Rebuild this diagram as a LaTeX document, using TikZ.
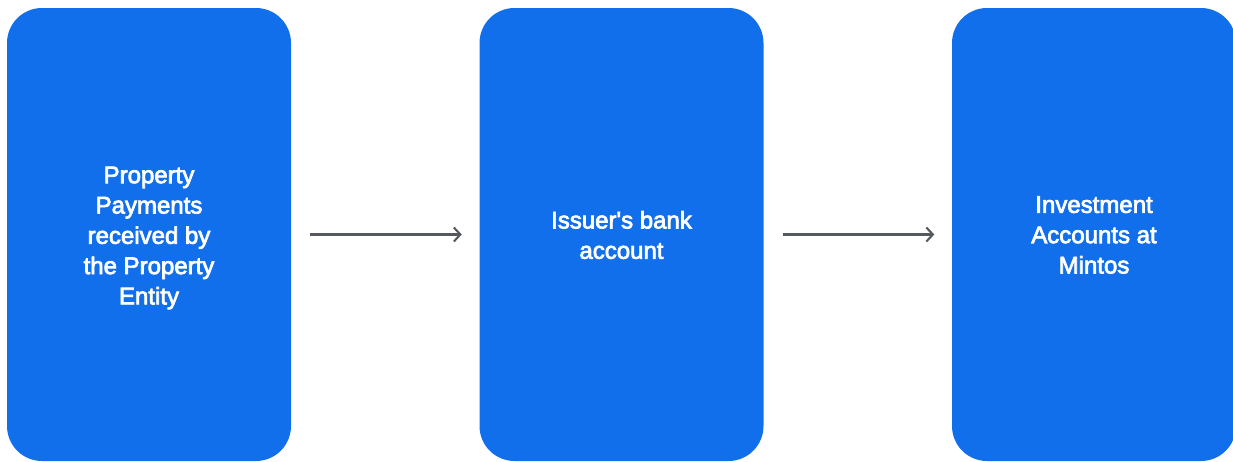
\documentclass[tikz,border=0pt]{standalone}
\usepackage{fontspec}
\newfontfamily\boxfont[FakeBold=3]{Liberation Sans}
\usetikzlibrary{arrows.meta}
\definecolor{boxblue}{HTML}{126FEB}
\definecolor{arrowgrey}{HTML}{55595F}
\tikzset{
  flowbox/.style={fill=boxblue,draw=none,rounded corners=35pt,minimum width=284pt,minimum height=453pt,inner sep=0pt},
  boxtext/.style={text=white,align=center,inner sep=0pt,font=\boxfont\fontsize{24pt}{30.3pt}\selectfont},
  flowarrow/.style={draw=arrowgrey,line width=2.1pt,-{Straight Barb[length=6.5pt,width=14pt,line width=2.1pt]},shorten <=19pt,shorten >=17.5pt}
}
\begin{document}
\begin{tikzpicture}[x=1pt,y=-1pt]
\useasboundingbox (0,0) rectangle (1233,461);
\clip (0,0) rectangle (1233,461);
\fill[white] (0,0) rectangle (1233,461);
\node[flowbox] (a) at (149,234.5) {};
\node[flowbox] (b) at (621.5,234.5) {};
\node[flowbox] (c) at (1094,234.5) {};
\node[boxtext] (ta) at (149,238) {Property\\Payments\\received by\\the Property\\Entity};
\node[boxtext] (tb) at (621.5,235) {Issuer's bank\\account};
\node[boxtext] (tc) at (1094,235) {Investment\\Accounts at\\Mintos};
\draw[flowarrow] (a.east) -- (b.west);
\draw[flowarrow] (b.east) -- (c.west);
\end{tikzpicture}
\end{document}
